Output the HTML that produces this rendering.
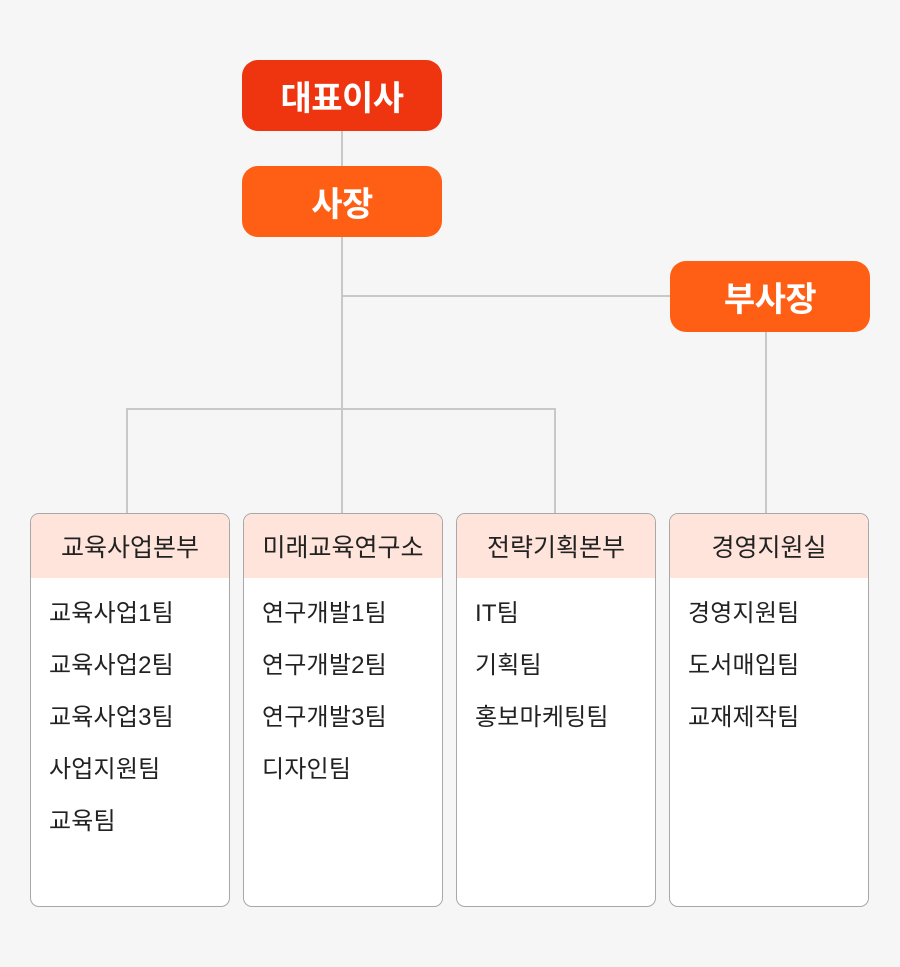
<!DOCTYPE html>
<html><head><meta charset="utf-8"><style>
*{margin:0;padding:0;box-sizing:border-box}
body{width:900px;height:967px;background:#f6f6f6;position:relative;overflow:hidden;font-family:"Liberation Sans","Noto Sans CJK KR",sans-serif}
.b{position:absolute;width:200px;height:71px;border-radius:16px;color:#fff;font-weight:700;font-size:34px;display:flex;align-items:center;justify-content:center;letter-spacing:-0.5px}
.l{position:absolute;background:#c8c8c8}
.c{position:absolute;top:513px;width:200px;height:394px;border:1px solid #a8a8a8;border-radius:9px;background:#fff;overflow:hidden}
.h{height:64px;background:#fee4da;display:flex;align-items:center;justify-content:center;font-size:25px;color:#222;letter-spacing:0}
.c p{position:absolute;left:18px;font-size:24px;color:#222;line-height:28px;letter-spacing:0.2px}
</style></head><body>
<div class="l" style="left:341px;top:131px;width:2px;height:382px"></div>
<div class="l" style="left:342px;top:295px;width:330px;height:2px"></div>
<div class="l" style="left:126px;top:408px;width:430px;height:2px"></div>
<div class="l" style="left:126px;top:408px;width:2px;height:105px"></div>
<div class="l" style="left:554px;top:408px;width:2px;height:105px"></div>
<div class="l" style="left:765px;top:332px;width:2px;height:181px"></div>
<div class="b" style="left:242px;top:60px;background:#ef3510">대표이사</div>
<div class="b" style="left:242px;top:166px;background:#ff5f14">사장</div>
<div class="b" style="left:670px;top:261px;background:#ff5f14">부사장</div>
<div class="c" style="left:30px"><div class="h">교육사업본부</div>
<p style="top:86px">교육사업1팀</p><p style="top:138px">교육사업2팀</p><p style="top:190px">교육사업3팀</p><p style="top:242px">사업지원팀</p><p style="top:294px">교육팀</p></div>
<div class="c" style="left:243px"><div class="h">미래교육연구소</div>
<p style="top:86px">연구개발1팀</p><p style="top:138px">연구개발2팀</p><p style="top:190px">연구개발3팀</p><p style="top:242px">디자인팀</p></div>
<div class="c" style="left:456px"><div class="h">전략기획본부</div>
<p style="top:86px">IT팀</p><p style="top:138px">기획팀</p><p style="top:190px">홍보마케팅팀</p></div>
<div class="c" style="left:669px"><div class="h">경영지원실</div>
<p style="top:86px">경영지원팀</p><p style="top:138px">도서매입팀</p><p style="top:190px">교재제작팀</p></div>
</body></html>
